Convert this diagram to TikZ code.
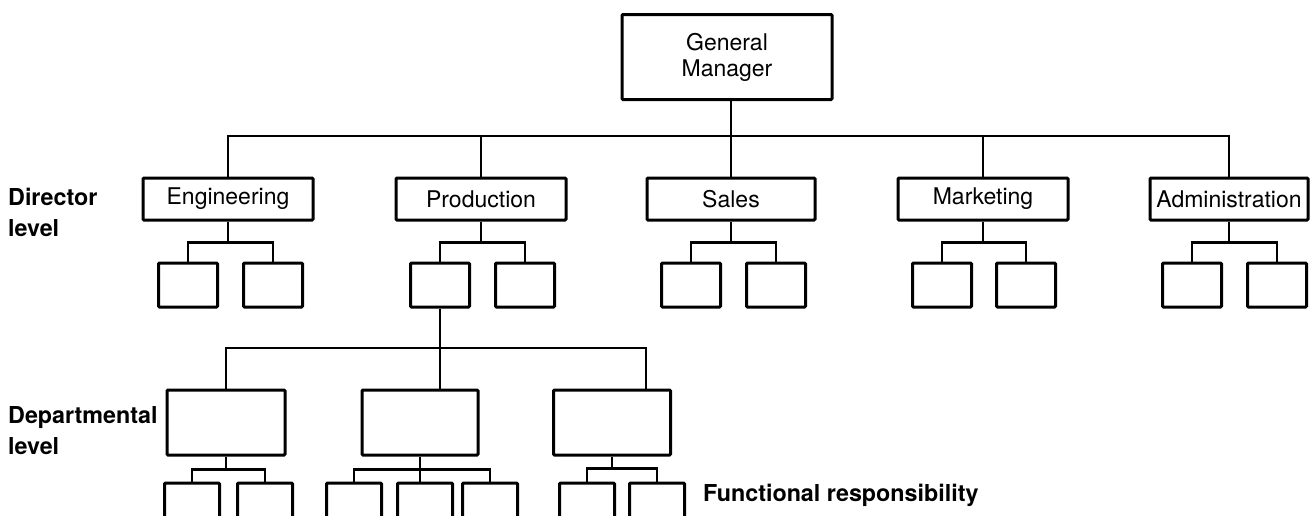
\documentclass[tikz,border=0pt]{standalone}
\usepackage{fontspec}
\setmainfont{TeX Gyre Heros}
\begin{document}
\begin{tikzpicture}[x=1pt,y=-1pt,
  box/.style={draw, line width=3pt, rounded corners=1pt, inner sep=0pt, anchor=center},
  lbl/.style={font=\fontsize{23}{26}\selectfont, align=center},
  side/.style={font=\bfseries\fontsize{23.3}{31}\selectfont, align=left, anchor=west, inner sep=0pt},
  link/.style={line width=2.2pt}]
\useasboundingbox (0,0) rectangle (1310,515);
\clip (0,0) rectangle (1310,515);

% top of the chart
\node[box, lbl, minimum width=210pt, minimum height=85pt] (gm) at (727,57) {General\\Manager};

% director level
\foreach \n/\x/\w/\t in {eng/228/170/Engineering, prod/481/170/Production,
    sales/731/168/Sales, mkt/983/170/Marketing, adm/1229/158/Administration}
  \node[box, lbl, minimum width=\w pt, minimum height=42pt] (\n) at (\x,199) {\t};

% units under each director
\foreach \n/\x in {e1/188, e2/273, p1/440, p2/525, s1/691, s2/776,
    m1/942, m2/1026, a1/1192, a2/1277}
  \node[box, minimum width=59pt, minimum height=44pt] (\n) at (\x,285) {};

% departmental level
\node[box, minimum width=118pt, minimum height=65pt] (d1) at (226,422.5) {};
\node[box, minimum width=116pt, minimum height=65pt] (d2) at (420,422.5) {};
\node[box, minimum width=117pt, minimum height=65pt] (d3) at (612,422.5) {};

% functional units
\foreach \n/\x in {f1/192, f2/265, f3/354, f4/425, f5/490, f6/587, f7/657}
  \node[box, minimum width=55pt, minimum height=50pt] (\n) at (\x,508) {};

% side labels
\node[side] (lv1) at (8,212) {Director\\level};
\node[side] (lv2) at (8,431) {Departmental\\level};
\node[side, font=\bfseries\fontsize{23.3}{26}\selectfont] (lv3) at (703,495) {Functional responsibility};

% general manager to directors
\draw[link] (sales.north) -- (sales.north |- gm.south);
\coordinate (tb) at (sales.north |- 0,136);
\draw[link] (eng.north) |- (tb) -| (adm.north);
\draw[link] (prod.north) -- (prod.north |- tb);
\draw[link] (mkt.north) -- (mkt.north |- tb);

% directors to their units
\foreach \d/\a/\b in {eng/e1/e2, prod/p1/p2, sales/s1/s2, mkt/m1/m2, adm/a1/a2} {
  \draw[link] (\d.south) -- ++(0,21) coordinate (\d-bus);
  \draw[link] (\a.north) |- (\d-bus) -| (\b.north);
}

% production unit to departments
\draw[link] (p1.south) -- (p1.south |- d2.north);
\coordinate (db) at (p1.south |- 0,348);
\draw[link] (d1.north) |- (db) -| ([xshift=34pt]d3.north);

% departments to functional units
\draw[link] (d1.south) -- ++(0,13) coordinate (d1-bus);
\draw[link] (f1.north) |- (d1-bus) -| (f2.north);
\draw[link] (d2.south) -- ++(0,13) coordinate (d2-bus);
\draw[link] (d2-bus) -- (d2-bus |- f4.north);
\draw[link] (f3.north) |- (d2-bus) -| (f5.north);
\draw[link] (d3.south) -- ++(0,12) coordinate (d3-bus);
\draw[link] (f6.north) |- (d3-bus) -| (f7.north);
\end{tikzpicture}
\end{document}
